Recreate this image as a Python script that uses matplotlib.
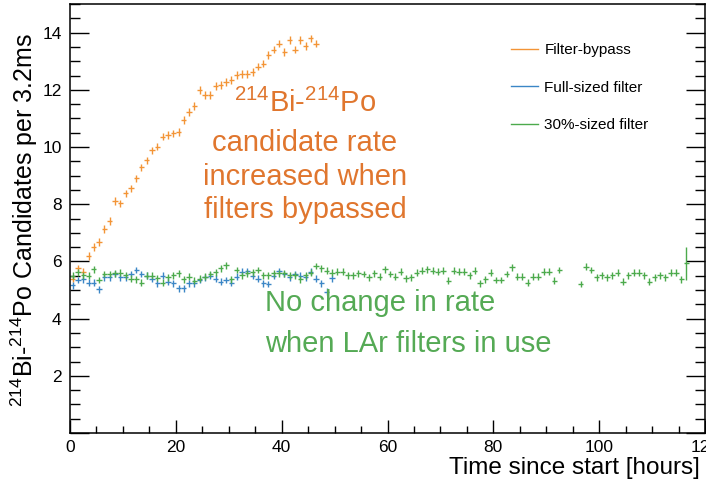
import numpy as np
import matplotlib
matplotlib.use('Agg')
import matplotlib.pyplot as plt
from matplotlib.ticker import MultipleLocator, FuncFormatter
from matplotlib.lines import Line2D

plt.rcParams['font.family'] = ['Liberation Sans', 'DejaVu Sans']
plt.rcParams['mathtext.fontset'] = 'custom'
plt.rcParams['mathtext.rm'] = 'Liberation Sans'
plt.rcParams['mathtext.it'] = 'Liberation Sans:italic'
plt.rcParams['mathtext.bf'] = 'Liberation Sans:bold'

# rates per hourly bin (bin centres at n + 0.5 hours)
bypass_rate = [5.40, 5.76, 5.64, 6.19, 6.51, 6.68, 7.13, 7.42, 8.12, 8.03,
               8.38, 8.55, 8.90, 9.29, 9.53, 9.88, 10.01, 10.36, 10.42, 10.48,
               10.53, 10.94, 11.23, 11.43, 11.99, 11.82, 11.82, 12.13, 12.17, 12.28,
               12.34, 12.52, 12.55, 12.55, 12.63, 12.81, 12.92, 13.22, 13.41, 13.62,
               13.33, 13.74, 13.41, 13.74, 13.53, 13.80, 13.62]

full_rate = [5.17, 5.35, 5.37, 5.26, 5.26, 5.02, 5.44, 5.44, 5.56, 5.44,
             5.44, 5.56, 5.70, 5.56, 5.50, 5.40, 5.23, 5.50, 5.29, 5.23,
             5.06, 5.06, 5.23, 5.23, 5.35, 5.44, 5.50, 5.40, 5.29, 5.35,
             5.26, 5.46, 5.64, 5.66, 5.50, 5.40, 5.23, 5.21, 5.50, 5.66,
             5.56, 5.44, 5.56, 5.50, 5.44, 5.64, 5.40, 5.23, 4.94, 5.41]

small_rate = [5.50, 5.62, 5.52, 5.50, 5.72, 5.35, 5.56, 5.56, 5.58, 5.60,
              5.52, 5.40, 5.37, 5.25, 5.50, 5.50, 5.42, 5.25, 5.45, 5.52,
              5.58, 5.38, 5.46, 5.32, 5.40, 5.46, 5.56, 5.62, 5.76, 5.87,
              5.38, 5.70, 5.52, 5.58, 5.62, 5.70, 5.52, 5.52, 5.58, 5.58,
              5.58, 5.52, 5.52, 5.38, 5.52, 5.60, 5.84,
              5.76, 5.68, 5.60, 5.64, 5.64, 5.52, 5.52, 5.58, 5.56, 5.44,
              5.58, 5.47, 5.72, 5.56, 5.47, 5.64, 5.41, 5.44, 5.60, 5.68,
              5.72, 5.68, 5.64, 5.68, 5.33, 5.68, 5.64, 5.64, 5.52, 5.68,
              5.23, 5.37, 5.60, 5.35, 5.35, 5.56, 5.79, 5.47, 5.47, 5.26,
              5.47, 5.47, 5.64, 5.64, 5.33, 5.70,
              np.nan, np.nan, np.nan,
              5.21, 5.82, 5.70, 5.44, 5.52, 5.44, 5.52, 5.60, 5.29, 5.52,
              5.60, 5.60, 5.52, 5.29, 5.44, 5.52, 5.44, 5.60, 5.60, 5.37,
              5.93]

bypass_err = [0.13] * len(bypass_rate)
full_err = [0.12] * len(full_rate)
small_err = [0.12] * (len(small_rate) - 1) + [0.58]

t_bypass = np.arange(len(bypass_rate)) + 0.5
t_full = np.arange(len(full_rate)) + 0.5
t_small = np.arange(len(small_rate)) + 0.5

c_orange = '#f39436'
c_blue = '#3b86c6'
c_green = '#4caa4c'

fig = plt.figure(figsize=(7.06, 4.88), dpi=100)
ax = fig.add_axes([0.0992, 0.1127, 0.8994, 0.879])

ax.errorbar(t_bypass, bypass_rate, xerr=0.5, yerr=bypass_err, fmt='none',
            ecolor=c_orange, elinewidth=1.0, capsize=0)
ax.errorbar(t_full, full_rate, xerr=0.5, yerr=full_err, fmt='none',
            ecolor=c_blue, elinewidth=1.0, capsize=0)
ax.errorbar(t_small, small_rate, xerr=0.5, yerr=small_err, fmt='none',
            ecolor=c_green, elinewidth=1.0, capsize=0)

ax.set_xlim(0, 120)
ax.set_ylim(0, 15)

ax.xaxis.set_major_locator(MultipleLocator(20))
ax.xaxis.set_minor_locator(MultipleLocator(5))
ax.yaxis.set_major_locator(MultipleLocator(2))
ax.yaxis.set_minor_locator(MultipleLocator(0.5))
ax.yaxis.set_major_formatter(FuncFormatter(lambda v, p: '' if v == 0 else f'{v:g}'))

ax.tick_params(axis='both', which='both', direction='in', labelsize=12.5, width=1.0)
ax.tick_params(axis='y', which='major', length=14, pad=6, left=True, right=True)
ax.tick_params(axis='y', which='minor', length=7, left=True, right=True)
ax.tick_params(axis='x', which='major', length=9.5, pad=5, top=False)
ax.tick_params(axis='x', which='minor', length=4.7, top=False)
for s in ax.spines.values():
    s.set_linewidth(1.1)

ax.set_ylabel(r'$^{214}$Bi-$^{214}$Po Candidates per 3.2ms', fontsize=18)
ax.yaxis.set_label_coords(-0.047, 0.497)
ax.set_xlabel('Time since start [hours]', fontsize=17.5, loc='right')
ax.xaxis.set_label_coords(0.992, -0.056)

# annotations
ax.text(44.4, 11.23, r'$^{214}$Bi-$^{214}$Po', color='#e0762e', fontsize=21,
        ha='center', va='baseline')
for txt, yb in [('candidate rate', 9.86), ('increased when', 8.67),
                ('filters bypassed', 7.52)]:
    ax.text(44.4, yb, txt, color='#e0762e', fontsize=21, ha='center', va='baseline')

ax.text(36.9, 4.25, 'No change in rate', color='#55aa55', fontsize=21,
        ha='left', va='baseline')
ax.text(36.9, 2.84, 'when LAr filters in use', color='#55aa55', fontsize=21,
        ha='left', va='baseline')

handles = [Line2D([], [], color=c_orange, lw=1.0),
           Line2D([], [], color=c_blue, lw=1.0),
           Line2D([], [], color=c_green, lw=1.0)]
labels = ['Filter-bypass', 'Full-sized filter', '30%-sized filter']
ax.legend(handles, labels, loc='upper left', bbox_to_anchor=(0.694, 0.909),
          frameon=False, fontsize=11, handlelength=1.8, handletextpad=0.4,
          labelspacing=1.55, borderaxespad=0, borderpad=0)

fig.savefig('out.png', dpi=100)
